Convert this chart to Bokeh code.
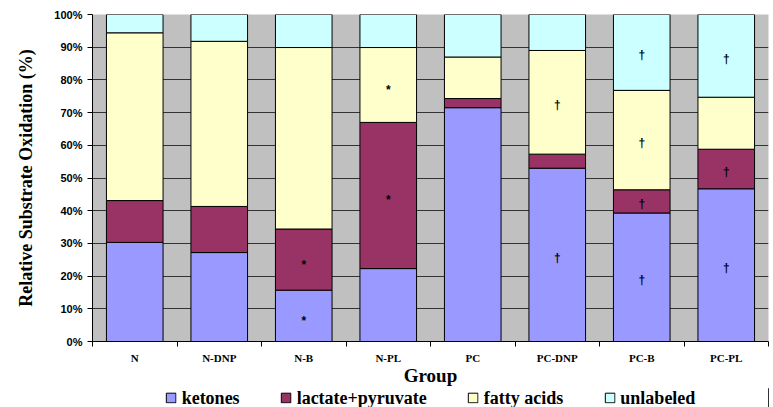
from bokeh.plotting import figure
from bokeh.layouts import column
from bokeh.models import (FixedTicker, Legend, LegendItem, ColumnDataSource,
                          PrintfTickFormatter, Range1d)
from bokeh.core.properties import value
from bokeh.embed import file_html
from bokeh.resources import INLINE

groups = ["N", "N-DNP", "N-B", "N-PL", "PC", "PC-DNP", "PC-B", "PC-PL"]
series = ["ketones", "lactate+pyruvate", "fatty acids", "unlabeled"]
ketones = [30.3, 27.2, 15.7, 22.3, 71.5, 53.0, 39.3, 46.7]
lactate = [12.8, 14.1, 18.7, 44.7, 2.8, 4.3, 7.1, 12.1]
fatty = [51.3, 50.5, 55.5, 22.9, 12.7, 31.7, 30.4, 15.9]
unlabeled = [5.6, 8.2, 10.1, 10.1, 13.0, 11.0, 23.2, 25.3]
colors = ["#9999FF", "#993366", "#FFFFCC", "#CCFFFF"]

# significance marks per segment
ketones_mark = ["", "", "*", "", "", "\u2020", "\u2020", "\u2020"]
lactate_mark = ["", "", "*", "*", "", "", "\u2020", "\u2020"]
fatty_mark = ["", "", "", "*", "", "\u2020", "\u2020", ""]
unlabeled_mark = ["", "", "", "", "", "", "\u2020", "\u2020"]

yticks = list(range(0, 101, 10))

x = [i + 0.5 for i in range(len(groups))]
src = ColumnDataSource(dict(x=x, ketones=ketones, lactate=lactate,
                            fatty=fatty, unlabeled=unlabeled))

p = figure(width=773, height=388, output_backend="svg", toolbar_location=None,
           x_range=Range1d(0, len(groups)), y_range=Range1d(0, 100),
           min_border_left=92, min_border_top=14, min_border_right=5,
           min_border_bottom=46)
p.background_fill_color = "#C0C0C0"
p.border_fill_color = "white"
p.outline_line_color = None

renderers = p.vbar_stack(["ketones", "lactate", "fatty", "unlabeled"], x="x",
                         width=0.67, color=colors, line_color="black",
                         line_width=1, source=src)

# marks at segment midpoints
stars = dict(x=[], y=[], t=[])
daggers = dict(x=[], y=[], t=[])
stacks = [ketones, lactate, fatty, unlabeled]
marks = [ketones_mark, lactate_mark, fatty_mark, unlabeled_mark]
for i in range(len(groups)):
    base = 0.0
    for s, m in zip(stacks, marks):
        if m[i]:
            d = stars if m[i] == "*" else daggers
            d["x"].append(x[i]); d["y"].append(base + s[i] / 2.0); d["t"].append(m[i])
        base += s[i]
p.text(x=stars["x"], y=stars["y"], text=stars["t"], text_align="center",
       text_baseline="middle", y_offset=5,
       text_font=value("Liberation Sans"), text_font_style="bold",
       text_font_size="12px", text_color="black")
p.text(x=daggers["x"], y=daggers["y"], text=daggers["t"], text_align="center",
       text_baseline="middle", y_offset=3,
       text_font=value("Liberation Sans"), text_font_style="bold",
       text_font_size="12px", text_color="black")

# axes
p.yaxis.ticker = FixedTicker(ticks=yticks)
p.yaxis.formatter = PrintfTickFormatter(format="%d%%")
p.yaxis.major_label_text_font = "Liberation Sans"
p.yaxis.major_label_text_font_style = "bold"
p.yaxis.major_label_text_font_size = "11px"
p.yaxis.major_label_text_color = "black"
p.yaxis.major_tick_in = 0
p.yaxis.major_tick_out = 5
p.yaxis.minor_tick_out = 0
p.yaxis.major_label_standoff = 5
p.yaxis.axis_line_color = "black"
p.yaxis.major_tick_line_color = "black"
p.yaxis.axis_label = "Relative Substrate Oxidation (%)"
p.yaxis.axis_label_text_font = "Liberation Serif"
p.yaxis.axis_label_text_font_style = "bold"
p.yaxis.axis_label_text_font_size = "18px"
p.yaxis.axis_label_text_color = "black"
p.yaxis.axis_label_standoff = 15

p.xaxis.ticker = FixedTicker(ticks=x, minor_ticks=list(range(len(groups) + 1)))
p.xaxis.major_label_overrides = {xi: g for xi, g in zip(x, groups)}
p.xaxis.major_tick_out = 0
p.xaxis.major_tick_in = 0
p.xaxis.minor_tick_out = 5
p.xaxis.minor_tick_in = 0
p.xaxis.minor_tick_line_color = "black"
p.xaxis.major_label_standoff = 5
p.xaxis.major_label_text_font = "Liberation Serif"
p.xaxis.major_label_text_font_style = "bold"
p.xaxis.major_label_text_font_size = "11px"
p.xaxis.major_label_text_color = "black"
p.xaxis.axis_line_color = "black"
p.xaxis.axis_label = "Group"
p.xaxis.axis_label_text_font = "Liberation Serif"
p.xaxis.axis_label_text_font_style = "bold"
p.xaxis.axis_label_text_font_size = "19px"
p.xaxis.axis_label_text_color = "black"
p.xaxis.axis_label_standoff = -2

p.xgrid.visible = False
p.ygrid.grid_line_color = "#333333"
p.ygrid.grid_line_width = 1

# legend strip below the chart
p2 = figure(width=773, height=19, output_backend="svg", toolbar_location=None,
            x_range=Range1d(0, 1), y_range=Range1d(0, 1),
            x_axis_type=None, y_axis_type=None,
            min_border_left=92, min_border_right=5, min_border_top=0,
            min_border_bottom=0)
p2.outline_line_color = None
p2.xgrid.visible = False
p2.ygrid.visible = False
# swatch renderers placed outside the visible range; only their legend boxes show
swatches = [p2.vbar(x=[5], top=[1], width=0.1, fill_color=c, line_color="black")
            for c in colors]
legend = Legend(items=[LegendItem(label=s, renderers=[r]) for s, r in zip(series, swatches)],
                orientation="horizontal", location="center")
legend.glyph_width = 12
legend.glyph_height = 12
legend.label_height = 19
legend.label_text_font = "Liberation Serif"
legend.label_text_font_style = "bold"
legend.label_text_font_size = "18px"
legend.label_text_color = "black"
legend.label_text_baseline = "middle"
legend.label_standoff = 5
legend.spacing = 40
legend.padding = 0
legend.margin = 0
legend.border_line_color = None
legend.background_fill_alpha = 0
p2.add_layout(legend, "center")

open("out.html", "w").write(file_html(column(p, p2, spacing=0), INLINE))
